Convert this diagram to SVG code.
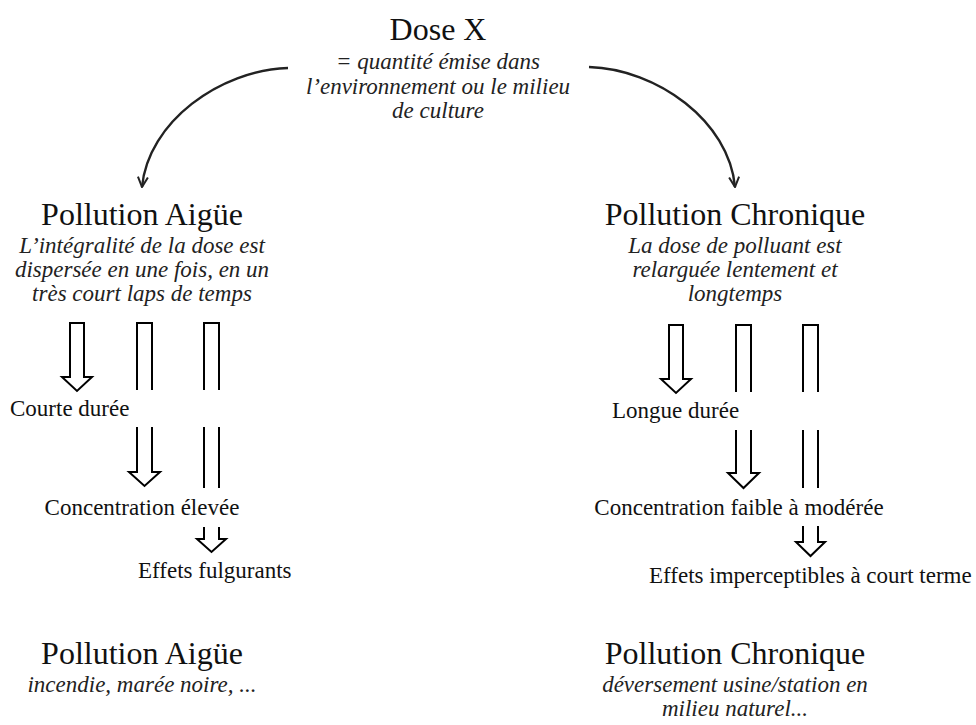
<svg xmlns="http://www.w3.org/2000/svg" width="976" height="725" viewBox="0 0 976 725">
<style>
  .h { font-family: "Liberation Serif", "Times New Roman", serif; font-size: 32px; fill: #111; text-anchor: middle; }
  .it { font-family: "Liberation Serif", "Times New Roman", serif; font-size: 23px; font-style: italic; fill: #222; text-anchor: middle; }
  .lb { font-family: "Liberation Serif", "Times New Roman", serif; font-size: 23px; fill: #111; }
  .arc { fill: none; stroke: #222; stroke-width: 2.4; marker-end: url(#vee); }
  .blk { fill: #fff; stroke: #000; stroke-width: 2; stroke-linejoin: miter; }
  .ln { fill: none; stroke: #000; stroke-width: 2; }
</style>
<defs>
  <marker id="vee" viewBox="0 0 12 12" refX="11" refY="6" markerWidth="12" markerHeight="12" markerUnits="userSpaceOnUse" orient="auto">
    <path d="M1,1 L11,6 L1,11" fill="none" stroke="#222" stroke-width="2"/>
  </marker>
</defs>
<rect width="976" height="725" fill="#fff"/>

<g id="dose">
  <text class="h" x="438" y="40" font-size="31">Dose X</text>
  <text class="it" x="438" y="69">= quantité émise dans</text>
  <text class="it" x="438" y="94">l’environnement ou le milieu</text>
  <text class="it" x="438" y="118">de culture</text>
</g>

<g id="pollution-aigue">
  <text class="h" x="142" y="225">Pollution Aigüe</text>
  <text class="it" x="142" y="253">L’intégralité de la dose est</text>
  <text class="it" x="142" y="277">dispersée en une fois, en un</text>
  <text class="it" x="142" y="301">très court laps de temps</text>
</g>

<g id="pollution-chronique">
  <text class="h" x="735" y="225">Pollution Chronique</text>
  <text class="it" x="735" y="253">La dose de polluant est</text>
  <text class="it" x="735" y="277">relarguée lentement et</text>
  <text class="it" x="735" y="301">longtemps</text>
</g>

<g id="courte-duree"><text class="lb" x="10" y="416">Courte durée</text></g>
<g id="concentration-elevee"><text class="lb" x="142" y="515" text-anchor="middle">Concentration élevée</text></g>
<g id="effets-fulgurants"><text class="lb" x="138" y="578">Effets fulgurants</text></g>

<g id="longue-duree"><text class="lb" x="612" y="418">Longue durée</text></g>
<g id="concentration-faible"><text class="lb" x="739" y="515" text-anchor="middle">Concentration faible à modérée</text></g>
<g id="effets-imperceptibles"><text class="lb" x="649" y="583">Effets imperceptibles à court terme</text></g>

<g id="exemple-aigue">
  <text class="h" x="142" y="664">Pollution Aigüe</text>
  <text class="it" x="142" y="692">incendie, marée noire, ...</text>
</g>

<g id="exemple-chronique">
  <text class="h" x="735" y="664">Pollution Chronique</text>
  <text class="it" x="735" y="692">déversement usine/station en</text>
  <text class="it" x="735" y="716">milieu naturel...</text>
</g>

<g id="connectors">
  <path class="arc" d="M288,68 C220,70 148,122 142,187"/>
  <path class="arc" d="M589,67 C657,69 729,121 735,187"/>

  <!-- left column -->
  <path class="blk" d="M70,323 H84 V377 H92 L77,391 L62,377 H70 Z"/>
  <path class="ln" d="M137,390 V323 H152 V390"/>
  <path class="ln" d="M204,390 V323 H219 V390"/>
  <path class="blk" d="M137,427 V472 H129 L144.5,486 L160,472 H152 V427"/>
  <path class="ln" d="M204,427 V488 M219,427 V488"/>
  <path class="blk" d="M204,527 V539 H197 L211.5,552 L226,539 H219 V527"/>

  <!-- right column -->
  <path class="blk" d="M669,325 H683 V379 H691 L676,393 L661,379 H669 Z"/>
  <path class="ln" d="M736,392 V325 H751 V392"/>
  <path class="ln" d="M803,392 V325 H818 V392"/>
  <path class="blk" d="M736,430 V473 H728 L743.5,488 L759,473 H751 V430"/>
  <path class="ln" d="M803,430 V488 M818,430 V488"/>
  <path class="blk" d="M803,526 V542 H796 L810.5,556 L825,542 H818 V526"/>
</g>
</svg>
